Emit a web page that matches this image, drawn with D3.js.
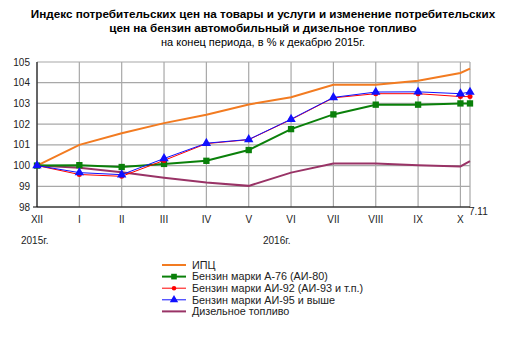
<!DOCTYPE html>
<html><head><meta charset="utf-8">
<script src="https://cdn.jsdelivr.net/npm/d3@7"></script>
<style>
body{margin:0;background:#fff;}
svg{font-family:"Liberation Sans",Arial,sans-serif;}
</style></head><body>
<svg id="c" width="524" height="349"></svg>
<script>
const months = ["XII","I","II","III","IV","V","VI","VII","VIII","IX","X","7.11"];
const xPos = [0,1,2,3,4,5,6,7,8,9,10,10.226];
const yTicks = [98,99,100,101,102,103,104,105];
const cpi    = [100,101.0,101.56,102.05,102.45,102.95,103.3,103.9,103.9,104.1,104.47,104.68];
const a76    = [100,100.02,99.93,100.08,100.23,100.75,101.76,102.47,102.94,102.94,103.0,103.0];
const ai92   = [100,99.57,99.48,100.25,101.06,101.25,102.22,103.27,103.47,103.47,103.33,103.33];
const ai95   = [100,99.66,99.56,100.34,101.08,101.26,102.24,103.29,103.55,103.56,103.47,103.55];
const diesel = [100,99.9,99.68,99.41,99.18,99.02,99.66,100.1,100.1,100.02,99.96,100.22];
const seriesNames = ["ИПЦ","Бензин марки А-76 (АИ-80)","Бензин марки АИ-92 (АИ-93 и т.п.)","Бензин марки АИ-95 и выше","Дизельное топливо"];

const svg = d3.select("#c");
const x = d3.scaleLinear().domain([0,10.226]).range([37,470]);
const y = d3.scaleLinear().domain([98,105]).range([207,62]);

// title
const t = svg.append("g").attr("text-anchor","middle").attr("fill","#000");
t.append("text").attr("x",263).attr("y",18).attr("font-size",11.7).attr("font-weight","bold")
 .text("Индекс потребительских цен на товары и услуги и изменение потребительских");
t.append("text").attr("x",263).attr("y",32).attr("font-size",11.7).attr("font-weight","bold")
 .text("цен на бензин автомобильный и дизельное топливо");
t.append("text").attr("x",263).attr("y",46).attr("font-size",11)
 .text("на конец периода, в % к декабрю 2015г.");

// grid
const g = svg.append("g");
g.selectAll(".hg").data(yTicks).join("line")
 .attr("x1",37).attr("x2",470).attr("y1",d=>y(d)).attr("y2",d=>y(d))
 .attr("stroke","#a8a8a8").attr("stroke-width",1.2);
g.selectAll(".vg").data(xPos).join("line")
 .attr("x1",d=>x(d)).attr("x2",d=>x(d)).attr("y1",62).attr("y2",207)
 .attr("stroke","#a8a8a8").attr("stroke-width",1.2);
// axes lines
g.append("line").attr("x1",37).attr("x2",37).attr("y1",62).attr("y2",207).attr("stroke","#000");
g.append("line").attr("x1",33).attr("x2",470).attr("y1",207).attr("y2",207).attr("stroke","#000");

// y labels
svg.append("g").selectAll("text").data(yTicks).join("text")
 .attr("x",30).attr("y",d=>y(d)+3.5).attr("text-anchor","end").attr("font-size",10).attr("fill","#222")
 .text(d=>d);
// x labels
svg.append("g").selectAll("text").data(months.slice(0,11)).join("text")
 .attr("x",(d,i)=>x(xPos[i])).attr("y",223).attr("text-anchor","middle").attr("font-size",10).attr("fill","#222")
 .text(d=>d);
svg.append("text").attr("x",469).attr("y",215).attr("font-size",10).attr("fill","#222").text(months[11]);
svg.append("text").attr("x",21).attr("y",244).attr("font-size",10).attr("fill","#222").text("2015г.");
svg.append("text").attr("x",263).attr("y",244).attr("font-size",10).attr("fill","#222").text("2016г.");

const line = d3.line().x((d,i)=>x(xPos[i])).y(d=>y(d));
const specs = [
 {data:diesel,color:"#993366",w:2,m:null},
 {data:cpi,color:"#f27b21",w:2,m:null},
 {data:a76,color:"#0a800a",w:2,m:"square"},
 {data:ai92,color:"#ff0000",w:1,m:"diamond"},
 {data:ai95,color:"#1010ff",w:1,m:"triangle"}
];
const sym = {square:d3.symbolSquare,diamond:d3.symbolCircle,triangle:d3.symbolTriangle};
const size = {square:40,diamond:20,triangle:38};
specs.forEach(s=>{
 svg.append("path").datum(s.data).attr("d",line).attr("fill","none")
  .attr("stroke",s.color).attr("stroke-width",s.w);
 if(s.m){
  svg.append("g").selectAll("path").data(s.data).join("path")
   .attr("d",d3.symbol().type(sym[s.m]).size(size[s.m]))
   .attr("transform",(d,i)=>`translate(${x(xPos[i])},${y(d)})`)
   .attr("fill",s.color);
 }
});

// legend
const leg = [
 {color:"#f27b21",w:2,m:null},
 {color:"#0a800a",w:2,m:"square"},
 {color:"#ff0000",w:1,m:"diamond"},
 {color:"#1010ff",w:1,m:"triangle"},
 {color:"#993366",w:2,m:null}
];
const lg = svg.append("g");
leg.forEach((l,i)=>{
 const yy = 265 + i*11.6;
 lg.append("line").attr("x1",162).attr("x2",186).attr("y1",yy).attr("y2",yy).attr("stroke",l.color).attr("stroke-width",l.w);
 if(l.m) lg.append("path").attr("d",d3.symbol().type(sym[l.m]).size(size[l.m]*0.8)).attr("transform",`translate(174,${yy})`).attr("fill",l.color);
 lg.append("text").attr("x",192).attr("y",yy+3.8).attr("font-size",10.8).attr("fill","#222").text(seriesNames[i]);
});
</script>
</body></html>
